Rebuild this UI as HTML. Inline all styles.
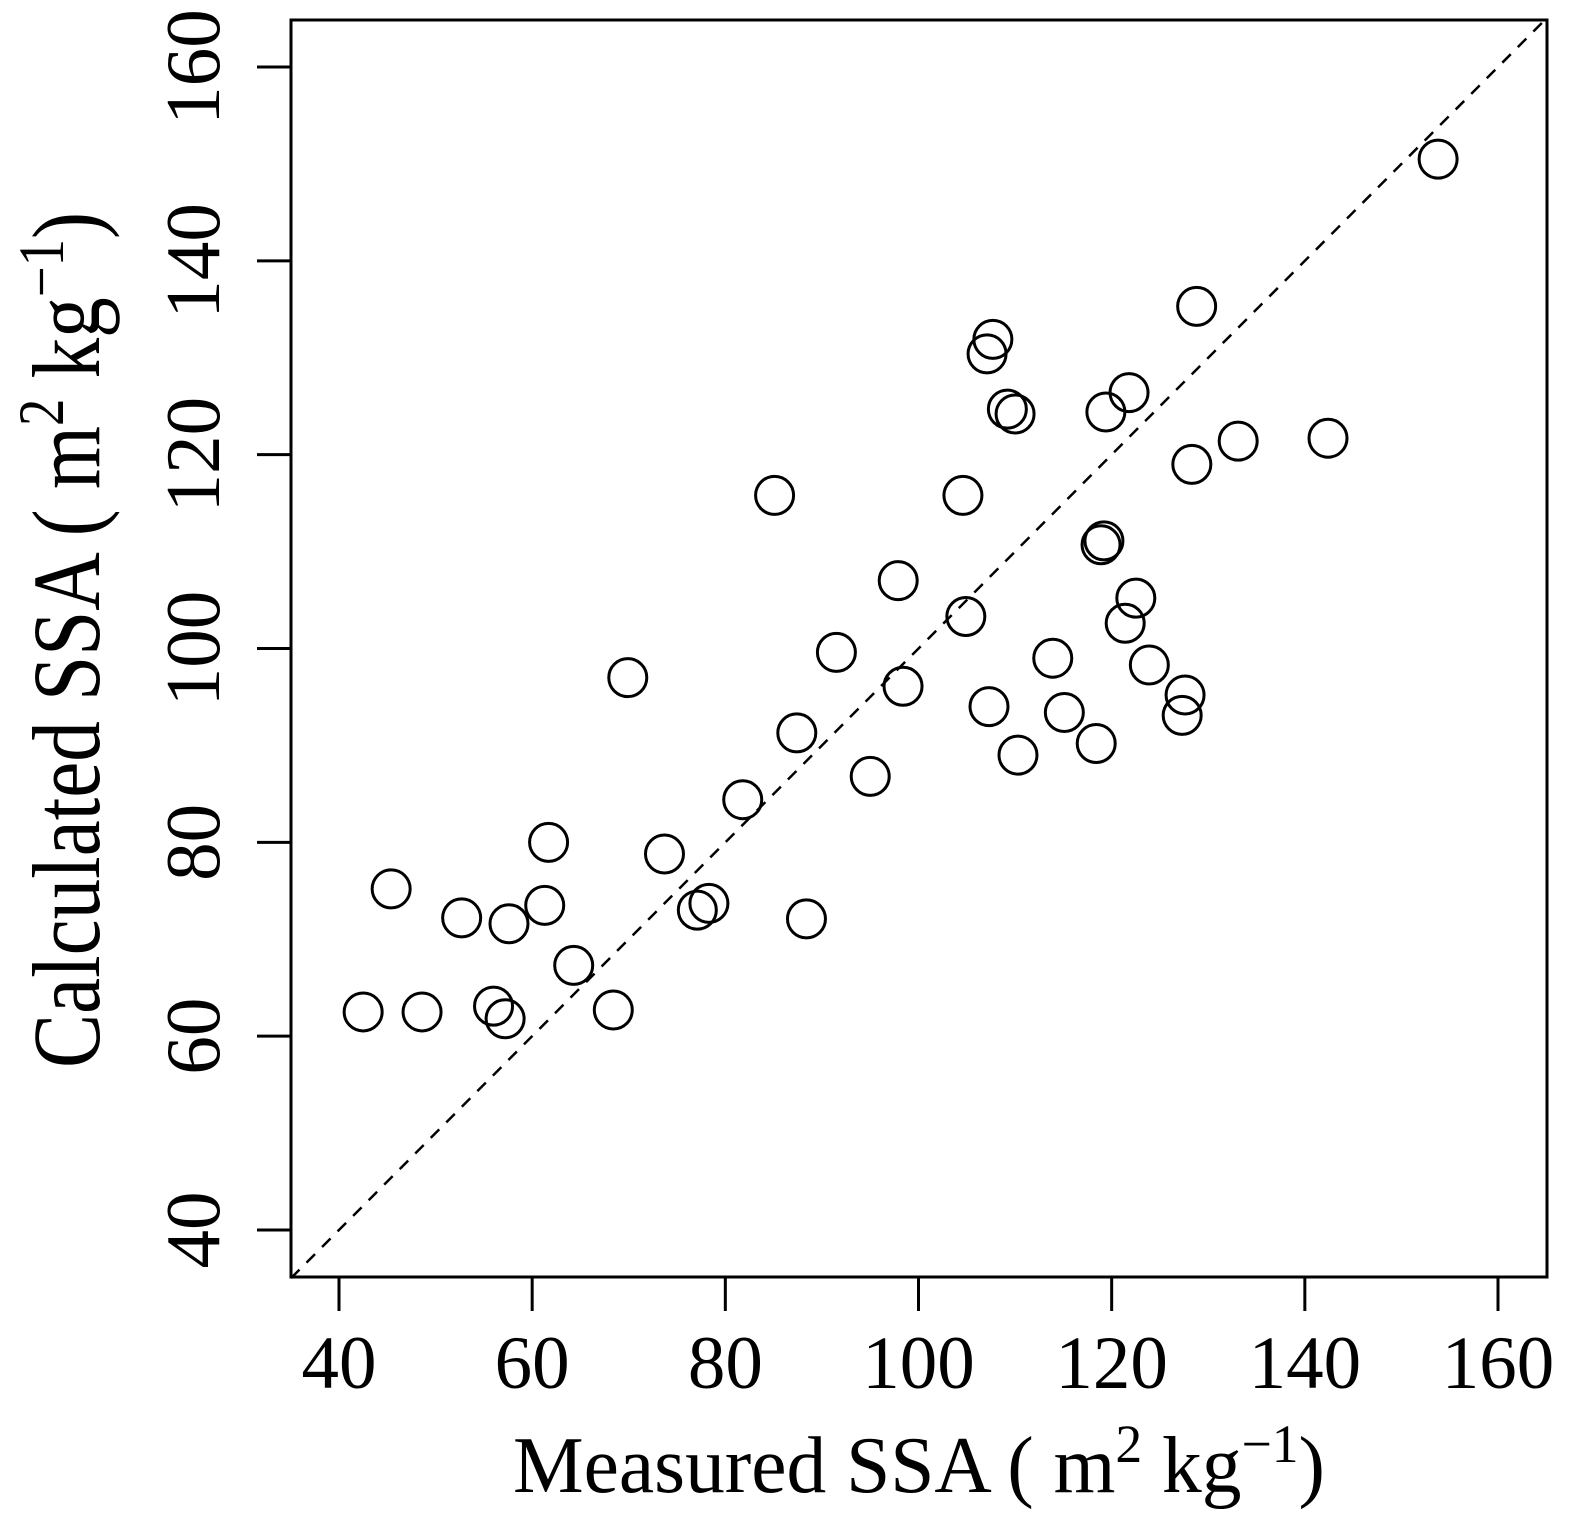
<!DOCTYPE html>
<html><head><meta charset="utf-8"><style>
html,body{margin:0;padding:0;background:#fff;}
svg{display:block;font-family:"Liberation Serif",serif;}
</style></head><body>
<svg id="chart" width="1573" height="1520" viewBox="0 0 1573 1520" xmlns="http://www.w3.org/2000/svg">
<rect x="291" y="20" width="1256" height="1257" fill="none" stroke="#000" stroke-width="3"/>
<g id="xticks"></g>
<g id="yticks"></g>
<g id="marks"></g>
<text x="919" y="1492" font-size="80" text-anchor="middle" textLength="812" lengthAdjust="spacingAndGlyphs">Measured SSA ( m<tspan dy="-30" font-size="54">2</tspan><tspan dy="30"> kg</tspan><tspan dy="-30" font-size="54">−1</tspan><tspan dy="30">)</tspan></text>
<text transform="translate(99,640) rotate(-90) scale(1,1.2)" font-size="80" text-anchor="middle" textLength="856" lengthAdjust="spacingAndGlyphs">Calculated SSA ( m<tspan dy="-30" font-size="54">2</tspan><tspan dy="30"> kg</tspan><tspan dy="-30" font-size="54">−1</tspan><tspan dy="30">)</tspan></text>
</svg>
<script>
const xTicks = [40, 60, 80, 100, 120, 140, 160];
const yTicks = [40, 60, 80, 100, 120, 140, 160];
const measured = [153.8,128.8,107.7,107.1,121.8,109.2,110.0,119.4,133.1,142.4,128.3,85.1,104.6,119.2,118.9,97.9,122.5,104.9,121.4,91.5,113.9,123.9,69.9,98.4,127.6,107.3,115.1,127.3,87.4,118.4,110.3,95.0,81.8,61.7,73.7,45.4,61.3,78.3,77.1,52.7,57.6,88.4,64.3,42.5,48.6,68.4,56.0,57.2];
const calculated = [150.5,135.3,131.9,130.4,126.4,124.7,124.2,124.4,121.4,121.7,119.0,115.8,115.8,111.1,110.7,107.0,105.2,103.3,102.6,99.6,99.0,98.3,97.0,96.1,95.2,94.0,93.4,93.1,91.3,90.2,89.0,86.8,84.4,80.0,78.8,75.2,73.5,73.7,73.0,72.2,71.6,72.1,67.3,62.5,62.5,62.7,63.1,61.8];
const NS = "http://www.w3.org/2000/svg";
function sx(v){ return 339 + (v - 40) * (1159/120); }
function sy(v){ return 1230 - (v - 40) * (1163/120); }
function mk(tag, attrs, parent){ const e=document.createElementNS(NS,tag); for(const k in attrs) e.setAttribute(k,attrs[k]); parent.appendChild(e); return e; }
const gx=document.getElementById('xticks'), gy=document.getElementById('yticks'), gm=document.getElementById('marks');
xTicks.forEach(t=>{
  const l=mk('line',{x1:sx(t),x2:sx(t),y1:1277,y2:1311,stroke:'#000','stroke-width':3},gx);
  
  
  const tx=mk('text',{x:sx(t),y:1388,'font-size':75,'text-anchor':'middle'},gx);
  tx.textContent=t;
  
  
});
yTicks.forEach(t=>{
  const l=mk('line',{x1:257,x2:291,y1:sy(t),y2:sy(t),stroke:'#000','stroke-width':3},gy);
  
  
  const tx=mk('text',{transform:`translate(219,${sy(t)}) rotate(-90)`,'font-size':77,'text-anchor':'middle'},gy);
  tx.textContent=t;
  
  
});
const ref=mk('line',{x1:sx(35.03),y1:sy(35.03),x2:sx(165),y2:sy(165),stroke:'#000','stroke-width':2.5,'stroke-dasharray':'12 10'},gm);


measured.forEach((m,i)=>{
  const c=mk('circle',{cx:sx(m),cy:sy(calculated[i]),r:19,fill:'none',stroke:'#000','stroke-width':3},gm);
  
  
});
</script>
</body></html>
